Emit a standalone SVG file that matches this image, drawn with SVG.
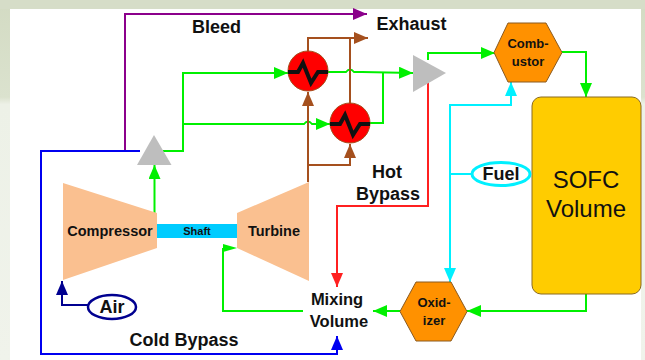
<svg xmlns="http://www.w3.org/2000/svg" width="645" height="360" viewBox="0 0 645 360">
<defs>
<linearGradient id="bg" x1="0" y1="0" x2="0" y2="1"><stop offset="0" stop-color="#d3dbc3"/><stop offset="0.27" stop-color="#dbe2ce"/><stop offset="0.29" stop-color="#edf1e7"/><stop offset="1" stop-color="#f0f3eb"/></linearGradient>
<marker id="aG" markerUnits="userSpaceOnUse" markerWidth="14" markerHeight="12" refX="14" refY="6" orient="auto"><path d="M0 0L14 6L0 12Z" fill="#00f000"/></marker>
<marker id="aB" markerUnits="userSpaceOnUse" markerWidth="14" markerHeight="12" refX="14" refY="6" orient="auto"><path d="M0 0L14 6L0 12Z" fill="#0000f0"/></marker>
<marker id="aN" markerUnits="userSpaceOnUse" markerWidth="14" markerHeight="12" refX="14" refY="6" orient="auto"><path d="M0 0L14 6L0 12Z" fill="#000090"/></marker>
<marker id="aR" markerUnits="userSpaceOnUse" markerWidth="14" markerHeight="12" refX="14" refY="6" orient="auto"><path d="M0 0L14 6L0 12Z" fill="#ff2020"/></marker>
<marker id="aC" markerUnits="userSpaceOnUse" markerWidth="14" markerHeight="12" refX="14" refY="6" orient="auto"><path d="M0 0L14 6L0 12Z" fill="#00f0ff"/></marker>
<marker id="aP" markerUnits="userSpaceOnUse" markerWidth="14" markerHeight="12" refX="14" refY="6" orient="auto"><path d="M0 0L14 6L0 12Z" fill="#8b008b"/></marker>
<marker id="aW" markerUnits="userSpaceOnUse" markerWidth="14" markerHeight="12" refX="14" refY="6" orient="auto"><path d="M0 0L14 6L0 12Z" fill="#a5501e"/></marker>
</defs>
<style>
text{font-family:"Liberation Sans",Arial,sans-serif;font-weight:bold;fill:#111;text-anchor:middle}
.c{fill:none;stroke-width:2}
.g{stroke:#00f000}.b{stroke:#0000f0}.w{stroke:#a5501e}.r{stroke:#ff2020}.y{stroke:#00f0ff}.p{stroke:#8b008b}.n{stroke:#000090}
.t{font-size:18px}.m{font-size:14.500px}.v{font-size:16.500px}
.hx{fill:#ff0000;stroke:#a5501e;stroke-width:1}
.zig{fill:none;stroke:#111;stroke-width:4}
.hex{fill:#ff9100;stroke:#8a5a20;stroke-width:1}
.mach{fill:#fac090}
.tri{fill:#bebebe}
</style>
<rect width="645" height="360" fill="url(#bg)"/>
<path d="M0 0H645V9H0Z" fill="#d6ddc8"/>
<rect x="10" y="9" width="631" height="351" fill="#ffffff"/>
<g id="connectors">
<path class="c p" d="M125 151V14H367" marker-end="url(#aP)"/>
<path class="c b" d="M140 151H41V354H337V336" marker-end="url(#aB)"/>
<path class="c n" d="M90 305H62V281" marker-end="url(#aN)"/>
<path class="c g" d="M154.500 213V165" marker-end="url(#aG)"/>
<path class="c g" d="M163 151H183V73H288" marker-end="url(#aG)"/>
<path class="c g" d="M183 124H304Q308 119 312 124H330" marker-end="url(#aG)"/>
<path class="c g" d="M328 72H346Q350 67 354 72H362L413 73" marker-end="url(#aG)"/>
<path class="c g" d="M370 123H383V73"/>
<path class="c g" d="M428 60V53H495" marker-end="url(#aG)"/>
<path class="c g" d="M562 52H586V97" marker-end="url(#aG)"/>
<path class="c g" d="M586 294V311H467" marker-end="url(#aG)"/>
<path class="c g" d="M400 311H373" marker-end="url(#aG)"/>
<path class="c g" d="M303 311H223V248"/>
<path d="M223 244L237 248L223 252Z" fill="#00f000"/>
<path class="c w" d="M308 182V92" marker-end="url(#aW)"/>
<path class="c w" d="M308 165H350V144" marker-end="url(#aW)"/>
<path class="c w" d="M308 52V38H368" marker-end="url(#aW)"/>
<path class="c w" d="M350 104V38"/>
<path class="c r" d="M428 82V206H337V287" marker-end="url(#aR)"/>
<path class="c y" d="M472 174H450V105H511V82" marker-end="url(#aC)"/>
<path class="c y" d="M450 174V282" marker-end="url(#aC)"/>
</g>
<g id="bleed-label"><text class="t" x="216.500" y="33">Bleed</text></g>
<g id="exhaust-label"><text class="t" x="411.500" y="30">Exhaust</text></g>
<g id="hot-bypass-label"><text class="t" x="387" y="178">Hot</text><text class="t" x="388" y="200">Bypass</text></g>
<g id="cold-bypass-label"><text class="t" x="184" y="346">Cold Bypass</text></g>
<g id="splitter-top"><path class="tri" d="M154 135L171.500 165H137Z"/></g>
<g id="splitter-right"><path class="tri" d="M413 55L446 73L413 92Z"/></g>
<g id="hx1"><circle class="hx" cx="308" cy="71" r="20"/><path class="zig" d="M288 72H298L303 63L311 83L318 72H328"/></g>
<g id="hx2"><circle class="hx" cx="350" cy="123" r="20"/><path class="zig" d="M330 124H340L345 115L353 135L360 124H370"/></g>
<g id="compressor"><path class="mach" d="M63 183L157 213V248L63 280Z"/><text class="m" x="110" y="236">Compressor</text></g>
<g id="shaft"><rect x="157" y="224" width="80" height="14" fill="#00ccff"/><text x="197" y="235" font-size="11">Shaft</text></g>
<g id="turbine"><path class="mach" d="M237 213L309 182V281L237 248Z"/><text class="m" x="274" y="236">Turbine</text></g>
<g id="air"><ellipse cx="112" cy="307" rx="24" ry="12" fill="#fff" stroke="#000090" stroke-width="2.500"/><text class="t" x="112" y="313">Air</text></g>
<g id="mixing"><text class="v" x="337" y="305">Mixing</text><text class="v" x="339" y="327">Volume</text></g>
<g id="combustor"><path class="hex" d="M508 23H546L562 52.500L546 82H508L494 52.500Z"/><text x="528" y="48" font-size="13">Comb-</text><text x="528" y="66" font-size="13">ustor</text></g>
<g id="oxidizer"><path class="hex" d="M416 282H451L467 311.500L451 341H416L400 311.500Z"/><text x="434" y="307" font-size="13">Oxid-</text><text x="434" y="325" font-size="13">izer</text></g>
<g id="sofc"><rect x="532" y="97" width="109" height="197" rx="9" fill="#ffcc00" stroke="#8a6a20" stroke-width="1"/><text x="586" y="188" font-size="24" style="font-weight:normal">SOFC</text><text x="586" y="217" font-size="24" style="font-weight:normal">Volume</text></g>
<g id="fuel"><ellipse cx="501" cy="174" rx="29" ry="11.500" fill="#fff" stroke="#00f0ff" stroke-width="3"/><text class="t" x="501" y="180">Fuel</text></g>
</svg>
